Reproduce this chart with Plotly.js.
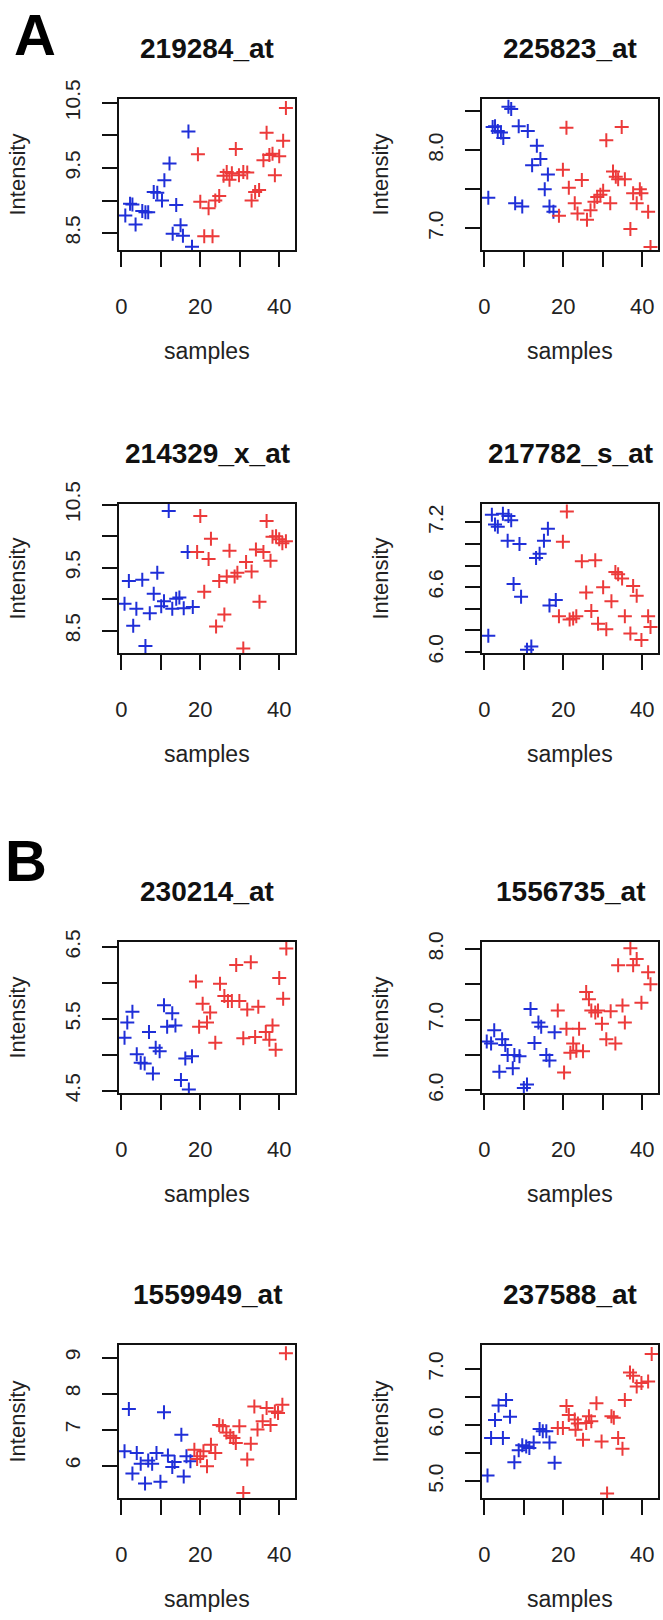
<!DOCTYPE html>
<html><head><meta charset="utf-8">
<script src="https://cdn.plot.ly/plotly-3.0.1.min.js"></script>
<style>html,body{margin:0;padding:0;background:#fff}#chart{width:663px;height:1620px}</style>
</head><body><div id="chart"></div>
<script>
const panelTitles = ["219284_at","225823_at","214329_x_at","217782_s_at","230214_at","1556735_at","1559949_at","237588_at"];
const groupLabels = ["A","B"];
const xTickVals = [0,10,20,30,40];
const xTickText = ["0","","20","","40"];

// Panel 1: 219284_at
const p1BlueX = [1,2.2,2.8,3.6,5.3,6.1,6.8,8.2,9.1,10.3,10.9,12.2,13,13.9,15,15.6,17,17.9];
const p1BlueY = [8.77,8.95,8.94,8.63,8.84,8.82,8.82,9.13,9.12,9.0,9.31,9.57,8.49,8.93,8.62,8.46,10.06,8.29];
const p1RedX = [19.4,20,21,22.1,23.1,23.8,24.8,25.9,26.7,27.4,28,29,29.8,30.9,31.9,33,33.9,34.9,36,36.8,37.5,38.3,38.9,40,41,41.7];
const p1RedY = [9.71,8.98,8.45,8.88,8.45,9.0,9.07,9.38,9.44,9.32,9.42,9.79,9.39,9.44,9.43,9.0,9.13,9.16,9.62,10.04,9.70,9.72,9.39,9.68,9.92,10.42];
const p1YTicks = [8.5,9.0,9.5,10.0,10.5];
const p1YText = ["8.5","","9.5","","10.5"];
const p1YRange = [8.24,10.56];

// Panel 2: 225823_at
const p2BlueX = [1.0,2.1,2.7,3.4,4.2,4.8,6.1,6.8,7.8,8.7,9.6,11.0,12.1,13.3,14.2,15.3,16.1,16.5,17.5];
const p2BlueY = [7.39,8.30,8.31,8.25,8.23,8.16,8.56,8.53,7.32,8.31,7.28,8.25,7.81,8.06,7.89,7.50,7.69,7.28,7.21];
const p2RedX = [18.9,19.9,20.8,21.4,22.9,23.6,24.7,26.0,26.9,27.9,28.6,29.4,30.1,30.9,31.9,32.6,33.3,33.9,34.8,35.6,37.0,37.7,38.6,39.4,39.8,41.5,42.1];
const p2RedY = [7.16,7.75,8.29,7.52,7.32,7.19,7.62,7.11,7.23,7.34,7.40,7.43,7.48,8.13,7.32,7.73,7.66,7.63,8.30,7.63,6.99,7.45,7.32,7.50,7.45,7.21,6.76];
const p2YTicks = [7.0,7.5,8.0,8.5];
const p2YText = ["7.0","","8.0",""];
const p2YRange = [6.72,8.66];

// Panel 3: 214329_x_at
const p3BlueX = [0.8,1.9,3.0,3.8,5.3,6.1,7.2,8.2,9.1,10.1,10.8,12.0,12.9,13.9,14.7,15.8,16.8,18.1];
const p3BlueY = [8.93,9.29,8.58,8.85,9.31,8.26,8.78,9.09,9.42,8.89,8.97,10.40,8.85,9.01,9.03,8.86,9.75,8.88];
const p3RedX = [19.2,20.0,21.0,22.1,22.7,24.0,24.8,26.1,26.7,27.4,28.7,29.4,30.9,31.6,33.0,34.1,35.0,36.0,36.8,37.8,38.3,39.2,40.0,40.8,41.7];
const p3RedY = [9.75,10.32,9.12,9.64,9.96,8.57,9.29,8.76,9.36,9.77,9.36,9.42,8.22,9.59,9.44,9.79,8.96,9.75,10.24,9.61,9.99,10.0,9.95,9.89,9.92];
const p3YTicks = [8.5,9.0,9.5,10.0,10.5];
const p3YText = ["8.5","","9.5","","10.5"];
const p3YRange = [8.15,10.51];

// Panel 4: 217782_s_at
const p4BlueX = [1.0,1.9,2.7,3.4,4.7,5.9,6.1,6.8,7.4,8.9,9.3,10.8,11.9,13.1,14.0,15.1,16.1,16.5,18.1];
const p4BlueY = [6.15,7.27,7.18,7.16,7.28,7.03,7.26,7.22,6.63,7.0,6.51,6.02,6.05,6.87,6.91,7.03,7.14,6.43,6.48];
const p4RedX = [18.9,19.9,20.9,21.6,22.5,23.3,24.7,25.8,27.1,28.1,28.8,30.1,30.9,32.2,33.2,33.9,34.9,35.6,37.0,37.7,38.6,39.8,41.5,42.1];
const p4RedY = [6.33,7.02,7.30,6.30,6.31,6.33,6.84,6.55,6.38,6.85,6.26,6.60,6.21,6.47,6.74,6.72,6.68,6.33,6.17,6.61,6.52,6.11,6.33,6.23];
const p4YTicks = [6.0,6.2,6.4,6.6,6.8,7.0,7.2];
const p4YText = ["6.0","","","6.6","","","7.2"];
const p4YRange = [5.99,7.37];

// Panel 5: 230214_at
const p5BlueX = [0.8,1.5,2.8,3.9,4.9,5.9,7.0,8.0,8.7,9.7,10.8,11.6,12.9,13.7,15.1,16.2,17.1,17.9];
const p5BlueY = [5.24,5.45,5.60,5.01,4.89,4.88,5.32,4.74,5.10,5.05,5.69,5.39,5.58,5.41,4.65,4.95,4.52,4.98];
const p5RedX = [18.9,19.7,20.6,21.7,22.5,23.8,25.0,26.1,27.0,28.0,29.1,29.9,30.9,31.9,32.8,33.9,34.7,36.6,37.5,38.3,39.1,40.0,41.0,41.8];
const p5RedY = [6.02,5.39,5.71,5.45,5.59,5.17,5.99,5.82,5.75,5.75,6.25,5.75,5.23,5.63,6.29,5.25,5.67,5.32,5.21,5.41,5.07,6.07,5.78,6.48];
const p5YTicks = [4.5,5.0,5.5,6.0,6.5];
const p5YText = ["4.5","","5.5","","6.5"];
const p5YRange = [4.47,6.57];

// Panel 6: 1556735_at
const p6BlueX = [0.6,1.7,2.5,3.8,4.5,5.3,5.9,7.2,7.6,8.9,10.0,10.8,11.7,12.7,13.7,14.4,15.7,16.5,17.8];
const p6BlueY = [6.69,6.66,6.85,6.26,6.72,6.64,6.50,6.31,6.50,6.48,6.03,6.08,7.15,6.67,6.96,6.90,6.50,6.42,6.82];
const p6RedX = [18.6,20.2,20.8,21.8,22.5,23.3,24.0,25.0,25.8,26.5,27.1,28.1,28.8,29.8,30.9,32.0,33.2,33.9,35.0,35.6,37.0,37.7,38.6,39.8,41.5,42.1];
const p6RedY = [7.13,6.25,6.87,6.53,6.66,6.56,6.87,6.55,7.39,7.29,7.13,7.10,7.13,6.94,6.72,7.12,6.66,7.77,7.20,6.96,8.01,7.77,7.86,7.24,7.67,7.50];
const p6YTicks = [6.0,6.5,7.0,7.5,8.0];
const p6YText = ["6.0","","7.0","","8.0"];
const p6YRange = [5.96,8.10];

// Panel 7: 1559949_at
const p7BlueX = [0.8,1.9,2.8,3.9,4.9,6.0,6.8,7.8,8.9,9.9,10.8,11.8,12.9,13.5,15.2,15.8,16.5,17.5];
const p7BlueY = [6.40,7.57,5.78,6.35,6.05,5.50,6.14,6.05,6.35,5.55,7.48,6.28,5.96,6.10,6.86,5.70,6.26,6.12];
const p7RedX = [18.5,19.2,20.0,20.8,21.7,22.7,23.8,24.8,25.7,26.6,27.6,28.4,29.0,29.9,30.9,31.9,32.8,33.7,34.5,35.8,36.8,37.8,38.9,39.7,40.8,41.7];
const p7RedY = [6.44,6.18,6.26,6.40,5.98,6.58,6.35,7.13,7.09,6.92,6.83,6.77,6.63,7.09,5.24,6.17,6.61,7.64,7.0,7.23,7.60,7.13,7.50,7.46,7.69,9.12];
const p7YTicks = [6,7,8,9];
const p7YText = ["6","7","8","9"];
const p7YRange = [5.10,9.35];

// Panel 8: 237588_at
const p8BlueX = [0.8,1.7,2.7,3.6,4.7,5.5,6.5,7.6,8.7,9.6,10.6,11.4,12.5,14.0,14.8,15.7,16.5,17.8];
const p8BlueY = [5.10,5.77,6.09,6.35,5.77,6.45,6.15,5.34,5.55,5.64,5.62,5.59,5.69,5.93,5.89,5.89,5.69,5.33];
const p8RedX = [18.6,19.9,20.8,21.4,22.9,23.1,23.7,25.0,25.8,26.5,27.1,28.4,29.7,31.1,32.2,32.8,33.9,35.0,35.6,36.9,37.7,38.6,39.8,41.5,42.4];
const p8RedY = [5.95,5.95,6.34,6.18,6.10,5.92,6.03,5.74,6.04,6.16,6.07,6.39,5.71,4.78,6.16,6.13,5.77,5.58,6.45,6.94,6.88,6.69,6.75,6.78,7.27];
const p8YTicks = [5.0,5.5,6.0,6.5,7.0];
const p8YText = ["5.0","","6.0","","7.0"];
const p8YRange = [4.70,7.43];

const panels = [
  {bx:p1BlueX,by:p1BlueY,rx:p1RedX,ry:p1RedY,yt:p1YTicks,ytt:p1YText,yr:p1YRange},
  {bx:p2BlueX,by:p2BlueY,rx:p2RedX,ry:p2RedY,yt:p2YTicks,ytt:p2YText,yr:p2YRange},
  {bx:p3BlueX,by:p3BlueY,rx:p3RedX,ry:p3RedY,yt:p3YTicks,ytt:p3YText,yr:p3YRange},
  {bx:p4BlueX,by:p4BlueY,rx:p4RedX,ry:p4RedY,yt:p4YTicks,ytt:p4YText,yr:p4YRange},
  {bx:p5BlueX,by:p5BlueY,rx:p5RedX,ry:p5RedY,yt:p5YTicks,ytt:p5YText,yr:p5YRange},
  {bx:p6BlueX,by:p6BlueY,rx:p6RedX,ry:p6RedY,yt:p6YTicks,ytt:p6YText,yr:p6YRange},
  {bx:p7BlueX,by:p7BlueY,rx:p7RedX,ry:p7RedY,yt:p7YTicks,ytt:p7YText,yr:p7YRange},
  {bx:p8BlueX,by:p8BlueY,rx:p8RedX,ry:p8RedY,yt:p8YTicks,ytt:p8YText,yr:p8YRange}
];

const W = 663, H = 1620;
const FONT = "Liberation Sans, Arial, Helvetica, sans-serif";
const rowsPx = [[99,250],[504,653],[942,1093],[1345,1498]];
const colsPx = [[119,295],[482,658]];
const BLUE = "#1f2fd8", RED = "#ec3a3a";
const px = v => v / W;
const py = v => 1 - v / H;

const traces = [];
const layout = {
  width: W, height: H,
  margin: {l:0,r:0,t:0,b:0},
  paper_bgcolor: "#fff", plot_bgcolor: "#fff",
  showlegend: false,
  font: {family: FONT, color: "#222"},
  annotations: []
};

panels.forEach((p, i) => {
  const row = Math.floor(i / 2), col = i % 2;
  const n = i === 0 ? "" : String(i + 1);
  const xa = "x" + n, ya = "y" + n;
  const marker = c => ({symbol: "cross-thin", size: 10, color: c, line: {color: c, width: 2}});
  traces.push({x: p.bx, y: p.by, xaxis: xa, yaxis: ya, type: "scatter", mode: "markers", marker: marker(BLUE), hoverinfo: "skip"});
  traces.push({x: p.rx, y: p.ry, xaxis: xa, yaxis: ya, type: "scatter", mode: "markers", marker: marker(RED), hoverinfo: "skip"});
  const [x0, x1] = colsPx[col], [y0, y1] = rowsPx[row];
  layout["xaxis" + n] = {
    domain: [px(x0), px(x1)], anchor: ya, range: [-0.6, 44.0],
    tickmode: "array", tickvals: xTickVals, ticktext: xTickText,
    ticks: "outside", ticklen: 15, tickwidth: 2, tickcolor: "#111",
    showline: true, mirror: true, linecolor: "#111", linewidth: 2,
    showgrid: false, zeroline: false, fixedrange: true,
    tickfont: {size: 22, family: FONT, color: "#222"}, ticklabelstandoff: 21
  };
  layout["yaxis" + n] = {
    domain: [py(y1), py(y0)], anchor: xa, range: p.yr,
    tickmode: "array", tickvals: p.yt, ticktext: p.ytt, tickangle: -90,
    ticks: "outside", ticklen: 15, tickwidth: 2, tickcolor: "#111",
    showline: true, mirror: true, linecolor: "#111", linewidth: 2,
    showgrid: false, zeroline: false, fixedrange: true,
    tickfont: {size: 21, family: FONT, color: "#222"}, ticklabelstandoff: 14
  };
  const cx = (x0 + x1) / 2, cy = (y0 + y1) / 2;
  layout.annotations.push({text: "<b>" + panelTitles[i] + "</b>", xref: "paper", yref: "paper",
    x: px(cx), y: py(y0 - 51), xanchor: "center", yanchor: "middle", showarrow: false,
    font: {size: 28, family: FONT, color: "#111"}});
  layout.annotations.push({text: "Intensity", xref: "paper", yref: "paper",
    x: px(x0 - 102), y: py(cy), xanchor: "center", yanchor: "middle", textangle: -90, showarrow: false,
    font: {size: 22, family: FONT, color: "#222"}});
  layout.annotations.push({text: "samples", xref: "paper", yref: "paper",
    x: px(cx), y: py(y1 + 101), xanchor: "center", yanchor: "middle", showarrow: false,
    font: {size: 23, family: FONT, color: "#222"}});
});

layout.annotations.push({text: "<b>" + groupLabels[0] + "</b>", xref: "paper", yref: "paper",
  x: px(12), y: 1, xanchor: "left", yanchor: "top", showarrow: false,
  font: {size: 58, family: FONT, color: "#000"}});
layout.annotations.push({text: "<b>" + groupLabels[1] + "</b>", xref: "paper", yref: "paper",
  x: px(3), y: py(861), xanchor: "left", yanchor: "middle", showarrow: false,
  font: {size: 58, family: FONT, color: "#000"}});

Plotly.newPlot("chart", traces, layout, {staticPlot: true, displayModeBar: false});
</script>
</body></html>
